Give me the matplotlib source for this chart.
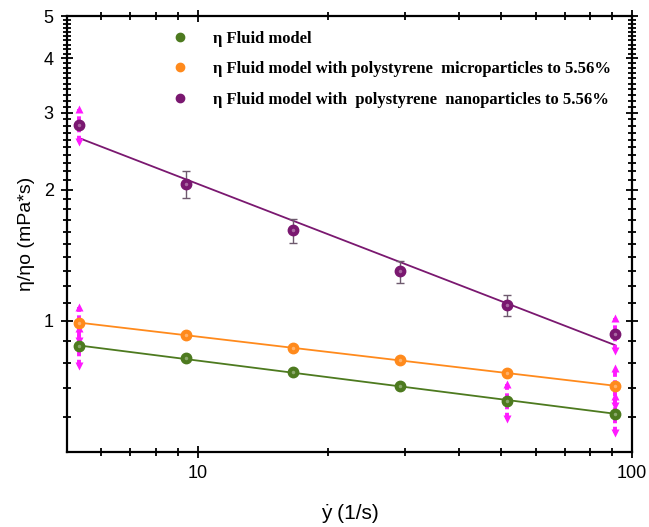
import numpy as np
import matplotlib
matplotlib.use("Agg")
from matplotlib import pyplot as plt
from matplotlib.lines import Line2D
from matplotlib.ticker import FixedLocator, NullFormatter, FixedFormatter

plt.rcParams['font.family'] = ['Liberation Sans', 'DejaVu Sans']

# shear rate (1/s)
shear = [5.33, 9.42, 16.6, 29.3, 51.6, 91.2]

# relative viscosity
fluid = [0.873, 0.820, 0.763, 0.707, 0.656, 0.612]
micro = [0.988, 0.929, 0.866, 0.811, 0.759, 0.709]
nano = [2.816, 2.059, 1.611, 1.298, 1.088, 0.934]

# error bars of the nanoparticle series (points 2-5)
nano_err = [0.145, 0.10, 0.075, 0.06]

# magenta arrow bars: (series, point index, half width)
arrow_bars = [
    ('nano', 0, 0.25), ('micro', 0, 0.09), ('fluid', 0, 0.087),
    ('fluid', 4, 0.06), ('nano', 5, 0.08), ('micro', 5, 0.07), ('fluid', 5, 0.06),
]

labels = ['η Fluid model',
          'η Fluid model with polystyrene  microparticles to 5.56%',
          'η Fluid model with  polystyrene  nanoparticles to 5.56%']
colors = ['#4d7a1f', '#ff8a1c', '#7a1870']
series = {'fluid': fluid, 'micro': micro, 'nano': nano}

fig = plt.figure(figsize=(6.49, 5.27), dpi=100)
ax = fig.add_axes([0.1032, 0.1423, 0.8706, 0.8273])
ax.set_xscale('log')
ax.set_yscale('log')
ax.set_xlim(5, 100)
ax.set_ylim(0.5, 5)

x = np.array(shear)
for name, c in zip(['fluid', 'micro', 'nano'], colors):
    y = np.array(series[name])
    # power-law fit in log-log space
    k, b = np.polyfit(np.log10(x), np.log10(y), 1)
    xf = np.array([x[0], x[-1]])
    ax.plot(xf, 10 ** (b + k * np.log10(xf)), color=c, lw=1.3, zorder=2)

# grey error bars on the nanoparticle points
ax.errorbar(x[1:5], nano[1:5], yerr=nano_err, fmt='none', ecolor='#6e5a6e',
            elinewidth=1.0, capsize=3, capthick=1.0, zorder=3)

# magenta dotted bars with arrow heads
for name, i, e in arrow_bars:
    yc = series[name][i]
    ax.vlines(x[i], yc - e, yc + e, colors='#ff1aff', lw=2.8,
              linestyles=(0, (1.6, 0.9)), zorder=4)
    ax.plot(x[i], yc + e, '^', ms=5.5, color='#ff1aff', mec='none', zorder=4)
    ax.plot(x[i], yc - e, 'v', ms=5.5, color='#ff1aff', mec='none', zorder=4)

for name, c in zip(['fluid', 'micro', 'nano'], colors):
    ax.plot(x, series[name], 'o', ms=7.5, color=c, mec=c, zorder=5)
    ax.plot(x, series[name], 'o', ms=2.5, color='white', alpha=0.35, mec='none', zorder=6)

# ticks
yminor = [v / 10 for v in range(6, 10)] + [v / 10 for v in range(11, 20)] + \
         [v / 10 for v in range(21, 50) if v % 10 != 0]
ax.yaxis.set_major_locator(FixedLocator([1, 2, 3, 4, 5]))
ax.yaxis.set_major_formatter(FixedFormatter(['1', '2', '3', '4', '5']))
ax.yaxis.set_minor_locator(FixedLocator(yminor))
ax.yaxis.set_minor_formatter(NullFormatter())
ax.xaxis.set_major_locator(FixedLocator([10, 100]))
ax.xaxis.set_major_formatter(FixedFormatter(['10', '100']))
ax.xaxis.set_minor_locator(FixedLocator([6, 7, 8, 9, 20, 30, 40, 50, 60, 70, 80, 90]))
ax.xaxis.set_minor_formatter(NullFormatter())

ax.tick_params(which='both', direction='inout', top=True, right=True, width=1.3,
               labelsize=13)
ax.tick_params(which='major', length=9, pad=5)
ax.tick_params(which='minor', length=6)
for s in ax.spines.values():
    s.set_linewidth(1.6)

ax.set_xlabel('ẏ (1/s)', fontsize=15, labelpad=16)
ax.set_ylabel('η/ηο (mPa*s)', fontsize=14, labelpad=6)

handles = [Line2D([], [], ls='none', marker='o', ms=6, color=c) for c in colors]
ax.legend(handles, labels, loc='upper left', bbox_to_anchor=(0.173, 0.982),
          frameon=False, handletextpad=1.5, labelspacing=0.88, handlelength=1.0,
          borderaxespad=0,
          prop={'family': 'Liberation Serif', 'weight': 'bold', 'size': 12})

fig.savefig('out.png', dpi=100)
